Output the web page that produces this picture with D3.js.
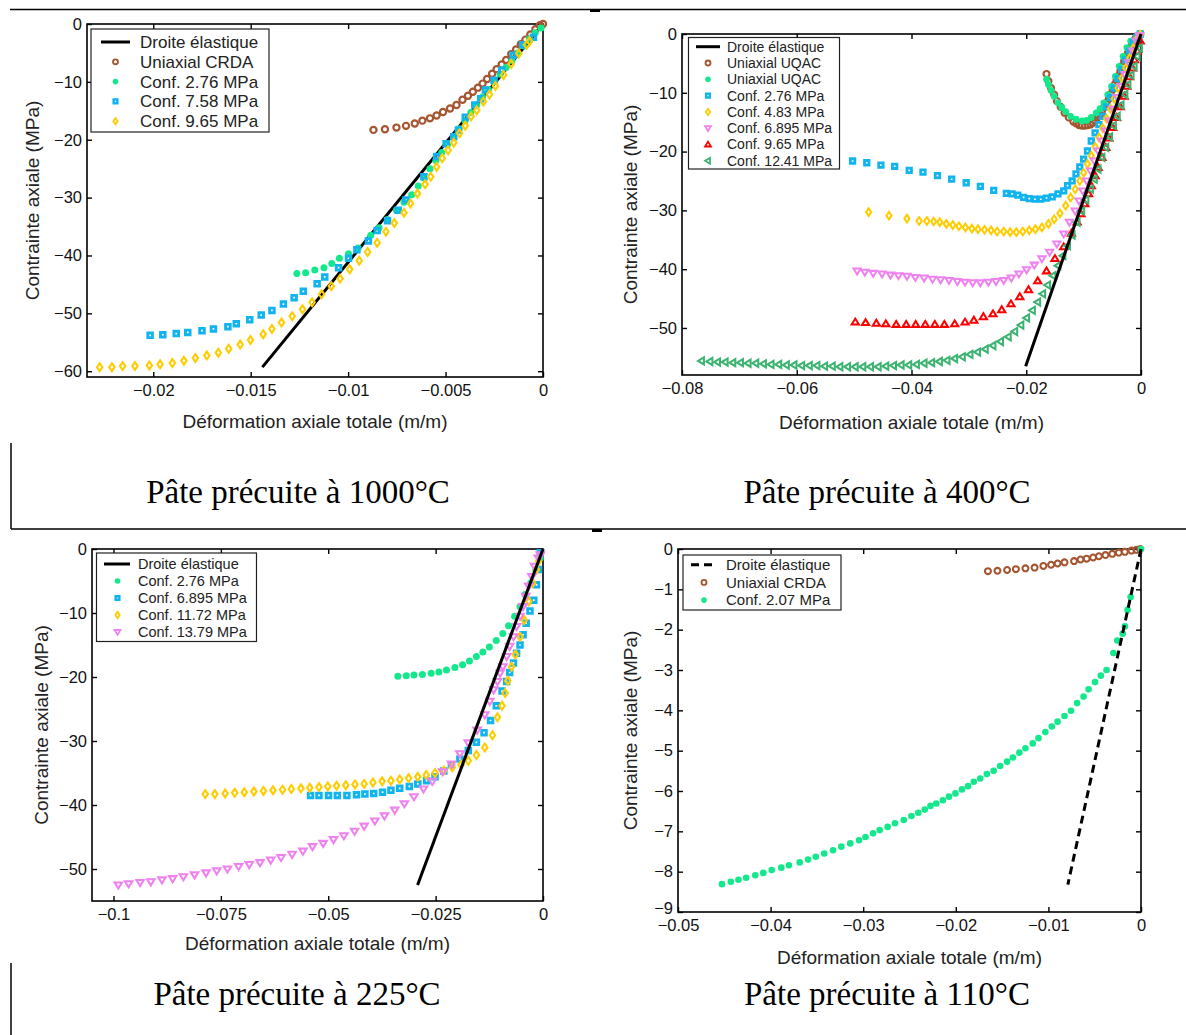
<!DOCTYPE html>
<html><head><meta charset="utf-8">
<script src="https://cdn.jsdelivr.net/npm/d3@7"></script>
<style>body{margin:0;background:#fff} svg{display:block}</style>
</head><body>
<svg id="c" width="1186" height="1035"></svg>
<script>
// ---------------- DATA (strain m/m, stress MPa) ----------------
// Panel 1 : Pâte précuite à 1000°C
const p1Elastic = [[0,0],[-0.0144,-59.3]];
const p1UniaxialCRDA = [[-0.0087,-18.3],[-0.00811,-18.2],[-0.00752,-17.9],[-0.00703,-17.6],[-0.00658,-17.2],[-0.00619,-16.7],[-0.0058,-16.3],[-0.00546,-15.8],[-0.00513,-15.2],[-0.00477,-14.6],[-0.00444,-14.0],[-0.00413,-13.1],[-0.00385,-12.4],[-0.0036,-11.7],[-0.00334,-11.0],[-0.0031,-10.3],[-0.00287,-9.5],[-0.00261,-8.6],[-0.00238,-7.8],[-0.00212,-7.0],[-0.00189,-6.2],[-0.00163,-5.2],[-0.00138,-4.4],[-0.00114,-3.5],[-0.0009,-2.7],[-0.00065,-1.8],[-0.00039,-0.9],[-0.00016,-0.2],[0,0]];
const p1Conf276 = [[-0.01263,-43.1],[-0.01218,-43.0],[-0.01171,-42.5],[-0.01124,-42.1],[-0.01084,-41.4],[-0.01045,-40.5],[-0.00998,-39.7],[-0.00949,-38.7],[-0.00884,-36.5],[-0.00841,-35.2],[-0.00798,-33.8],[-0.00752,-32.2],[-0.00713,-30.8],[-0.00674,-29.5],[-0.0064,-28.0],[-0.0061,-26.6],[-0.0058,-25.0],[-0.0055,-23.6],[-0.0052,-22.2],[-0.0049,-20.8],[-0.0046,-19.5],[-0.0043,-18.1],[-0.004,-16.7],[-0.0037,-15.3],[-0.0034,-14.0],[-0.0031,-12.6],[-0.0028,-11.3],[-0.0025,-10.0],[-0.0022,-8.7],[-0.0019,-7.5],[-0.0016,-6.3],[-0.0013,-5.0],[-0.001,-3.8],[-0.0007,-2.6],[-0.0004,-1.5],[-0.0001,-0.7]];
const p1Conf758 = [[-0.02016,-53.8],[-0.01951,-53.7],[-0.01882,-53.5],[-0.01823,-53.3],[-0.0175,-53.0],[-0.01691,-52.7],[-0.01617,-52.3],[-0.01574,-51.8],[-0.01505,-51.1],[-0.01446,-50.3],[-0.01391,-49.5],[-0.01332,-48.4],[-0.01277,-47.3],[-0.0123,-46.2],[-0.01159,-44.9],[-0.0112,-43.7],[-0.01049,-42.1],[-0.00998,-40.5],[-0.00955,-39.0],[-0.00896,-37.5],[-0.00851,-35.7],[-0.00798,-34.0],[-0.00743,-32.2],[-0.00703,-30.4],[-0.00611,-26.4],[-0.00546,-22.9],[-0.00497,-20.7],[-0.00458,-19.5],[-0.00434,-18.3],[-0.00399,-16.1],[-0.0035,-14.0],[-0.0032,-12.9],[-0.00295,-11.4],[-0.00251,-9.7],[-0.00212,-8.0],[-0.00153,-5.4],[-0.00104,-3.6],[-0.00049,-2.3]];
const p1Conf965 = [[-0.02275,-59.3],[-0.02212,-59.3],[-0.02157,-59.1],[-0.02094,-59.1],[-0.0202,-59.0],[-0.01965,-58.8],[-0.01902,-58.6],[-0.01843,-58.2],[-0.01784,-57.7],[-0.01725,-57.3],[-0.01666,-56.8],[-0.01613,-56.1],[-0.01554,-55.4],[-0.01501,-54.6],[-0.01436,-53.6],[-0.01391,-52.7],[-0.01342,-51.6],[-0.01287,-50.5],[-0.01234,-49.3],[-0.01185,-48.1],[-0.01136,-46.7],[-0.01086,-45.3],[-0.01041,-44.0],[-0.00992,-42.4],[-0.00943,-40.9],[-0.009,-39.4],[-0.00851,-37.8],[-0.00806,-35.9],[-0.00763,-34.4],[-0.00713,-32.6],[-0.0068,-31.0],[-0.00644,-29.3],[-0.00605,-27.7],[-0.00576,-26.4],[-0.00546,-24.7],[-0.00517,-23.2],[-0.00487,-21.8],[-0.00458,-20.5],[-0.00428,-18.9],[-0.00399,-17.6],[-0.00369,-16.0],[-0.0034,-14.9],[-0.00306,-13.4],[-0.00275,-12.2],[-0.00244,-10.7],[-0.00202,-8.8],[-0.00163,-6.9],[-0.00124,-5.1],[-0.00084,-3.6],[-0.00069,-3.0]];
const p1XTicks = [-0.02,-0.015,-0.01,-0.005,0];
const p1XTickLabels = ["\u22120.02","\u22120.015","\u22120.01","\u22120.005","0"];
const p1YTicks = [0,-10,-20,-30,-40,-50,-60];
const p1YTickLabels = ["0","\u221210","\u221220","\u221230","\u221240","\u221250","\u221260"];
const p1Legend = ["Droite élastique","Uniaxial CRDA","Conf. 2.76 MPa","Conf. 7.58 MPa","Conf. 9.65 MPa"];

// Panel 2 : Pâte précuite à 400°C
const p2Elastic = [[0,0],[-0.0201,-56.5]];
const p2UniaxialUQAC1 = [[-0.01647,-6.8],[-0.01613,-8.0],[-0.01567,-9.2],[-0.01513,-10.3],[-0.01467,-11.4],[-0.014,-12.4],[-0.01333,-13.4],[-0.0126,-14.2],[-0.0118,-14.9],[-0.0113,-15.2],[-0.0108,-15.5],[-0.0103,-15.6],[-0.0098,-15.6],[-0.0093,-15.5],[-0.0088,-15.4],[-0.0084,-15.1],[-0.008,-14.7],[-0.00755,-14.2],[-0.00713,-13.7],[-0.0068,-13.1],[-0.00647,-12.5],[-0.006,-11.7],[-0.0056,-11.0],[-0.00525,-10.2],[-0.00493,-9.4],[-0.0046,-8.6],[-0.00427,-7.9],[-0.00393,-7.1],[-0.0036,-6.3],[-0.00327,-5.4],[-0.00293,-4.6],[-0.0026,-3.9],[-0.00227,-3.2],[-0.00193,-2.5],[-0.0016,-1.8],[-0.00127,-1.2],[-0.00093,-0.7],[-0.0005,-0.3],[-0.00013,0]];
const p2UniaxialUQAC2 = [[-0.01647,-7.7],[-0.01613,-8.6],[-0.01567,-9.6],[-0.01513,-10.6],[-0.01447,-11.7],[-0.0138,-12.5],[-0.01313,-13.2],[-0.01227,-14.0],[-0.01133,-14.5],[-0.01027,-14.8],[-0.00947,-14.7],[-0.00867,-14.2],[-0.0078,-13.4],[-0.00713,-12.7],[-0.00647,-11.7],[-0.0058,-10.3],[-0.00513,-8.9],[-0.00447,-7.2],[-0.0038,-5.5],[-0.00313,-3.8],[-0.00247,-2.3],[-0.0018,-1.2],[-0.0008,-0.4],[0,0]];
const p2Conf276 = [[-0.05027,-21.6],[-0.0478,-21.9],[-0.04533,-22.3],[-0.04293,-22.5],[-0.0404,-23.2],[-0.038,-23.5],[-0.03547,-24.1],[-0.033,-24.7],[-0.03047,-25.3],[-0.028,-25.9],[-0.02567,-26.6],[-0.02347,-27.1],[-0.02247,-27.2],[-0.02147,-27.4],[-0.02047,-27.8],[-0.01947,-28.0],[-0.01847,-28.1],[-0.01747,-28.1],[-0.01647,-27.9],[-0.01547,-27.7],[-0.01447,-27.2],[-0.01347,-26.7],[-0.0128,-25.8],[-0.012,-25.0],[-0.01133,-23.8],[-0.01067,-22.6],[-0.01,-21.3],[-0.00933,-19.9],[-0.00867,-18.2],[-0.008,-16.8],[-0.00733,-15.4],[-0.00667,-14.0],[-0.006,-12.4],[-0.00533,-10.8],[-0.00467,-9.2],[-0.004,-7.6],[-0.00333,-6.0],[-0.00267,-4.4],[-0.002,-2.9],[-0.00133,-1.5],[-0.00067,-0.6],[-0.00013,0]];
const p2Conf483 = [[-0.04747,-30.3],[-0.04393,-30.9],[-0.0408,-31.4],[-0.03867,-31.8],[-0.03733,-31.8],[-0.03613,-31.9],[-0.03507,-32.0],[-0.03393,-32.3],[-0.0328,-32.5],[-0.03173,-32.7],[-0.0306,-32.9],[-0.02947,-33.1],[-0.0284,-33.2],[-0.02727,-33.3],[-0.02613,-33.4],[-0.02507,-33.6],[-0.02393,-33.6],[-0.0228,-33.7],[-0.02173,-33.7],[-0.0206,-33.6],[-0.01947,-33.4],[-0.0184,-33.2],[-0.01727,-32.9],[-0.01613,-32.3],[-0.01513,-31.5],[-0.01413,-30.5],[-0.01313,-29.2],[-0.01227,-27.8],[-0.01147,-26.4],[-0.01067,-25.0],[-0.01,-23.6],[-0.00933,-22.1],[-0.00867,-20.7],[-0.008,-19.2],[-0.00733,-17.6],[-0.00667,-16.0],[-0.006,-14.4],[-0.00533,-12.7],[-0.00467,-11.0],[-0.004,-9.2],[-0.00333,-7.5],[-0.00267,-5.8],[-0.002,-4.1],[-0.00133,-2.4],[-0.0008,-1.0],[-0.00013,-0.1]];
const p2Conf6895 = [[-0.04947,-40.3],[-0.04813,-40.5],[-0.04667,-40.7],[-0.04513,-40.8],[-0.04367,-41.0],[-0.04227,-41.1],[-0.0408,-41.2],[-0.03933,-41.4],[-0.0378,-41.5],[-0.03633,-41.7],[-0.03493,-41.8],[-0.03347,-41.9],[-0.032,-42.1],[-0.03067,-42.2],[-0.02933,-42.3],[-0.028,-42.3],[-0.0266,-42.2],[-0.02527,-42.1],[-0.02393,-41.9],[-0.0226,-41.5],[-0.02127,-40.8],[-0.01993,-40.1],[-0.0186,-39.3],[-0.01727,-38.2],[-0.01593,-37.1],[-0.01467,-35.7],[-0.01347,-34.0],[-0.01247,-32.0],[-0.01147,-30.1],[-0.0108,-28.4],[-0.01013,-26.7],[-0.00947,-25.0],[-0.0088,-23.3],[-0.00813,-21.6],[-0.00747,-19.9],[-0.0068,-18.2],[-0.00613,-16.5],[-0.00547,-14.8],[-0.0048,-12.8],[-0.00413,-10.8],[-0.00347,-8.9],[-0.0028,-6.9],[-0.00213,-4.9],[-0.00147,-2.9],[-0.0008,-1.2],[-0.00027,-0.3]];
const p2Conf965 = [[-0.0498,-49.0],[-0.048,-49.1],[-0.04613,-49.2],[-0.04447,-49.3],[-0.04267,-49.4],[-0.04093,-49.4],[-0.03927,-49.4],[-0.0376,-49.4],[-0.03593,-49.4],[-0.03427,-49.4],[-0.03247,-49.3],[-0.03067,-49.0],[-0.02913,-48.7],[-0.02747,-48.1],[-0.0258,-47.6],[-0.02427,-46.9],[-0.02267,-45.9],[-0.02113,-44.7],[-0.0196,-43.5],[-0.018,-42.0],[-0.01647,-40.3],[-0.015,-38.2],[-0.01347,-36.2],[-0.01213,-33.9],[-0.01113,-32.0],[-0.01047,-30.6],[-0.0098,-28.9],[-0.00913,-27.2],[-0.00867,-25.8],[-0.008,-24.1],[-0.00747,-22.7],[-0.0068,-21.0],[-0.00613,-19.3],[-0.0056,-17.7],[-0.00493,-15.9],[-0.00427,-14.2],[-0.0036,-12.4],[-0.00293,-10.6],[-0.00247,-8.9],[-0.002,-7.3],[-0.00147,-5.8],[-0.00113,-4.4],[-0.00067,-2.9],[-0.00013,-1.2]];
const p2Conf1241 = [[-0.0766,-55.6],[-0.07513,-55.7],[-0.0738,-55.8],[-0.07247,-55.8],[-0.07113,-55.9],[-0.0698,-55.9],[-0.06847,-56.0],[-0.06713,-56.0],[-0.0658,-56.1],[-0.06447,-56.2],[-0.06313,-56.2],[-0.0618,-56.3],[-0.06047,-56.3],[-0.05913,-56.4],[-0.0578,-56.4],[-0.05647,-56.4],[-0.05513,-56.5],[-0.0538,-56.5],[-0.05247,-56.6],[-0.05113,-56.6],[-0.0498,-56.6],[-0.04847,-56.6],[-0.04713,-56.6],[-0.0458,-56.6],[-0.04447,-56.5],[-0.04313,-56.4],[-0.0418,-56.3],[-0.04047,-56.3],[-0.03913,-56.2],[-0.0378,-56.0],[-0.03647,-55.9],[-0.03513,-55.7],[-0.0338,-55.5],[-0.03247,-55.2],[-0.03113,-54.9],[-0.0298,-54.5],[-0.02847,-54.1],[-0.02713,-53.6],[-0.0258,-53.0],[-0.02447,-52.3],[-0.02313,-51.5],[-0.022,-50.6],[-0.02093,-49.5],[-0.01993,-48.3],[-0.01893,-47.0],[-0.018,-45.6],[-0.01713,-44.2],[-0.01627,-42.7],[-0.01533,-41.1],[-0.01447,-39.4],[-0.0136,-37.7],[-0.0128,-36.0],[-0.012,-34.2],[-0.01113,-32.0],[-0.01033,-30.1],[-0.0096,-28.2],[-0.0088,-26.4],[-0.00813,-24.7],[-0.00747,-23.0],[-0.0068,-21.0],[-0.00613,-19.3],[-0.00547,-17.5],[-0.0048,-15.6],[-0.00413,-14.0],[-0.00347,-12.1],[-0.0028,-10.3],[-0.00227,-8.6],[-0.00173,-7.0],[-0.0012,-5.5],[-0.00067,-3.8],[-0.00027,-2.4]];
const p2XTicks = [-0.08,-0.06,-0.04,-0.02,0];
const p2XTickLabels = ["\u22120.08","\u22120.06","\u22120.04","\u22120.02","0"];
const p2YTicks = [0,-10,-20,-30,-40,-50];
const p2YTickLabels = ["0","\u221210","\u221220","\u221230","\u221240","\u221250"];
const p2Legend = ["Droite élastique","Uniaxial UQAC","Uniaxial UQAC","Conf. 2.76 MPa","Conf. 4.83 MPa","Conf. 6.895 MPa","Conf. 9.65 MPa","Conf. 12.41 MPa"];

// Panel 3 : Pâte précuite à 225°C
const p3Elastic = [[0,0],[-0.0292,-52.5]];
const p3Conf276 = [[-0.03379,-19.9],[-0.03183,-19.8],[-0.03005,-19.7],[-0.02808,-19.6],[-0.02603,-19.4],[-0.02425,-19.2],[-0.02247,-18.9],[-0.02051,-18.5],[-0.01872,-18.1],[-0.01712,-17.5],[-0.01551,-16.8],[-0.014,-16.1],[-0.01248,-15.3],[-0.01088,-14.3],[-0.00936,-13.2],[-0.00802,-12.0],[-0.0066,-10.5],[-0.00535,-9.0],[-0.00419,-7.1],[-0.00285,-5.3],[-0.00169,-3.2],[-0.00062,-1.4]];
const p3Conf6895 = [[-0.05412,-38.5],[-0.05216,-38.5],[-0.04993,-38.5],[-0.04788,-38.5],[-0.04565,-38.5],[-0.04342,-38.4],[-0.04146,-38.3],[-0.03941,-38.2],[-0.03736,-38.0],[-0.0354,-37.7],[-0.03335,-37.4],[-0.03112,-37.1],[-0.02915,-36.7],[-0.0271,-36.2],[-0.02514,-35.6],[-0.02309,-34.7],[-0.02131,-33.7],[-0.01935,-32.8],[-0.01739,-31.5],[-0.01551,-30.2],[-0.01373,-28.7],[-0.01221,-26.8],[-0.01088,-24.5],[-0.00954,-22.2],[-0.00847,-20.7],[-0.00776,-19.3],[-0.00687,-17.8],[-0.00615,-16.3],[-0.00535,-15.0],[-0.00464,-13.4],[-0.00392,-11.6],[-0.00303,-9.7],[-0.00214,-8.0],[-0.00152,-5.6],[-0.00107,-3.2],[-0.00062,-0.6]];
const p3Conf1172 = [[-0.07864,-38.3],[-0.07641,-38.3],[-0.074,-38.2],[-0.07177,-38.1],[-0.06954,-38.0],[-0.06731,-37.9],[-0.06509,-37.8],[-0.06286,-37.7],[-0.06063,-37.6],[-0.05858,-37.5],[-0.05635,-37.4],[-0.0543,-37.3],[-0.05216,-37.2],[-0.05011,-37.1],[-0.04806,-37.0],[-0.04592,-36.9],[-0.04378,-36.8],[-0.04164,-36.7],[-0.03959,-36.5],[-0.03745,-36.3],[-0.0354,-36.2],[-0.03335,-36.0],[-0.03129,-35.8],[-0.02915,-35.6],[-0.02719,-35.3],[-0.02514,-35.0],[-0.02309,-34.6],[-0.02113,-34.1],[-0.01908,-33.7],[-0.01739,-33.1],[-0.01551,-32.2],[-0.01355,-31.0],[-0.01177,-29.1],[-0.01061,-26.3],[-0.00954,-24.5],[-0.00883,-22.5],[-0.0082,-20.6],[-0.00731,-18.4],[-0.00642,-16.5],[-0.00535,-13.7],[-0.00437,-11.1],[-0.0033,-8.2],[-0.00241,-5.3],[-0.00152,-3.2],[-0.00107,-1.9]];
const p3Conf1379 = [[-0.09888,-52.5],[-0.09647,-52.3],[-0.0938,-52.1],[-0.0913,-52.0],[-0.08871,-51.7],[-0.08622,-51.5],[-0.08372,-51.2],[-0.08113,-50.9],[-0.07846,-50.6],[-0.07596,-50.3],[-0.07347,-50.0],[-0.07088,-49.6],[-0.06839,-49.3],[-0.06589,-49.0],[-0.06339,-48.6],[-0.06099,-48.2],[-0.0584,-47.7],[-0.0559,-47.2],[-0.05367,-46.5],[-0.05118,-46.0],[-0.04877,-45.4],[-0.04636,-44.8],[-0.04387,-44.1],[-0.04164,-43.3],[-0.03914,-42.5],[-0.03691,-41.7],[-0.03451,-40.8],[-0.03228,-39.8],[-0.03005,-38.7],[-0.02782,-37.5],[-0.02577,-36.3],[-0.02336,-34.8],[-0.02131,-33.6],[-0.01935,-32.0],[-0.01739,-30.3],[-0.01534,-28.3],[-0.01355,-25.9],[-0.01239,-23.8],[-0.0115,-22.0],[-0.01061,-20.7],[-0.00999,-19.4],[-0.00936,-18.4],[-0.00847,-16.8],[-0.00776,-15.2],[-0.00687,-13.7],[-0.00615,-12.1],[-0.00535,-10.5],[-0.00464,-9.0],[-0.00401,-7.4],[-0.0033,-5.8],[-0.00259,-4.3],[-0.00196,-2.7],[-0.00107,-1.4],[-0.00062,-0.9]];
const p3XTicks = [-0.1,-0.075,-0.05,-0.025,0];
const p3XTickLabels = ["\u22120.1","\u22120.075","\u22120.05","\u22120.025","0"];
const p3YTicks = [0,-10,-20,-30,-40,-50];
const p3YTickLabels = ["0","\u221210","\u221220","\u221230","\u221240","\u221250"];
const p3Legend = ["Droite élastique","Conf. 2.76 MPa","Conf. 6.895 MPa","Conf. 11.72 MPa","Conf. 13.79 MPa"];

// Panel 4 : Pâte précuite à 110°C
const p4Elastic = [[0,0],[-0.0079,-8.32]];
const p4UniaxialCRDA = [[-0.01653,-0.55],[-0.0155,-0.54],[-0.01446,-0.52],[-0.01351,-0.5],[-0.01248,-0.48],[-0.01149,-0.46],[-0.01054,-0.42],[-0.00971,-0.39],[-0.00901,-0.36],[-0.00826,-0.33],[-0.00723,-0.3],[-0.00653,-0.26],[-0.00587,-0.24],[-0.00517,-0.21],[-0.00455,-0.18],[-0.00384,-0.15],[-0.0031,-0.12],[-0.0024,-0.09],[-0.00174,-0.07],[-0.00103,-0.04],[-0.0005,-0.02],[-0.00008,0]];
const p4Conf207 = [[-0.04525,-8.31],[-0.0443,-8.25],[-0.04347,-8.2],[-0.04264,-8.15],[-0.04165,-8.09],[-0.04079,-8.03],[-0.03988,-7.96],[-0.03884,-7.9],[-0.03802,-7.84],[-0.03686,-7.77],[-0.03595,-7.7],[-0.03512,-7.63],[-0.03421,-7.55],[-0.03326,-7.47],[-0.03236,-7.38],[-0.0314,-7.3],[-0.03045,-7.22],[-0.02975,-7.14],[-0.02893,-7.05],[-0.02822,-6.97],[-0.02736,-6.89],[-0.02657,-6.8],[-0.02562,-6.72],[-0.02479,-6.62],[-0.02405,-6.54],[-0.02335,-6.46],[-0.02273,-6.37],[-0.02211,-6.31],[-0.0214,-6.23],[-0.02074,-6.14],[-0.02004,-6.06],[-0.01934,-5.96],[-0.01868,-5.88],[-0.01806,-5.77],[-0.01736,-5.69],[-0.01665,-5.58],[-0.01591,-5.5],[-0.01521,-5.38],[-0.01446,-5.27],[-0.01384,-5.17],[-0.01314,-5.05],[-0.01248,-4.94],[-0.01169,-4.82],[-0.01107,-4.69],[-0.01033,-4.54],[-0.00963,-4.4],[-0.00901,-4.28],[-0.00826,-4.14],[-0.00756,-4.01],[-0.0069,-3.82],[-0.0062,-3.66],[-0.00566,-3.48],[-0.00496,-3.3],[-0.00434,-3.14],[-0.00372,-3.0],[-0.00298,-2.58],[-0.00256,-2.27],[-0.00198,-2.1],[-0.00174,-1.92],[-0.00145,-1.51],[-0.00112,-1.19],[0,0]];
const p4XTicks = [-0.05,-0.04,-0.03,-0.02,-0.01,0];
const p4XTickLabels = ["\u22120.05","\u22120.04","\u22120.03","\u22120.02","\u22120.01","0"];
const p4YTicks = [0,-1,-2,-3,-4,-5,-6,-7,-8,-9];
const p4YTickLabels = ["0","\u22121","\u22122","\u22123","\u22124","\u22125","\u22126","\u22127","\u22128","\u22129"];
const p4Legend = ["Droite élastique","Uniaxial CRDA","Conf. 2.07 MPa"];

const captions = ["Pâte précuite à 1000°C","Pâte précuite à 400°C","Pâte précuite à 225°C","Pâte précuite à 110°C"];
const xTitle = "Déformation axiale totale (m/m)";
const yTitle = "Contrainte axiale (MPa)";

// ---------------- STYLE ----------------
const C = {brown:"#a5552f", spring:"#14e88c", blue:"#12b4ef", gold:"#ffcc00", violet:"#ee82ee", red:"#ff0000", sea:"#3cb371"};
const SANS = "'Liberation Sans', Arial, Helvetica, sans-serif";
const SERIF = "'Liberation Serif', 'Times New Roman', serif";

const svg = d3.select("#c");

function markerPath(type, s) {
  const p = d3.path();
  if (type === "o") { p.arc(0,0,3.1*s,0,2*Math.PI); }
  else if (type === ".") { p.arc(0,0,3.5*s,0,2*Math.PI); }
  else if (type === "s") { const h=2.3*s; p.rect(-h,-h,2*h,2*h); }
  else if (type === "d") { const w=2.7*s,h=3.9*s; p.moveTo(0,-h);p.lineTo(w,0);p.lineTo(0,h);p.lineTo(-w,0);p.closePath(); }
  else if (type === "v") { const w=3.7*s; p.moveTo(-w,-2.5*s);p.lineTo(w,-2.5*s);p.lineTo(0,3.6*s);p.closePath(); }
  else if (type === "^") { const w=3.7*s; p.moveTo(-w,2.5*s);p.lineTo(w,2.5*s);p.lineTo(0,-3.6*s);p.closePath(); }
  else if (type === "<") { const w=3.7*s; p.moveTo(2.5*s,-w);p.lineTo(2.5*s,w);p.lineTo(-3.6*s,0);p.closePath(); }
  return p.toString();
}
function markerStyle(sel, type, color, s) {
  if (type === ".") sel.attr("fill", color).attr("stroke", "none");
  else sel.attr("fill", "none").attr("stroke", color)
          .attr("stroke-width", (type==="s"?2.9:type==="o"?2.2:2.1)*Math.max(s,0.85))
          .attr("stroke-linejoin","miter");
}

function drawPanel(cfg) {
  const g = svg.append("g");
  const x = d3.scaleLinear().domain(cfg.xDomain).range([cfg.left, cfg.right]);
  const y = d3.scaleLinear().domain(cfg.yDomain).range([cfg.bottom, cfg.top]);
  const W = cfg.right - cfg.left, H = cfg.bottom - cfg.top;

  const axB = g.append("g").attr("transform", `translate(0,${cfg.bottom})`)
    .call(d3.axisBottom(x).tickValues(cfg.xTicks).tickFormat((d,i)=>cfg.xTickLabels[i]).tickSize(-5).tickSizeOuter(0).tickPadding(7.5));
  const axL = g.append("g").attr("transform", `translate(${cfg.left},0)`)
    .call(d3.axisLeft(y).tickValues(cfg.yTicks).tickFormat((d,i)=>cfg.yTickLabels[i]).tickSize(-5).tickSizeOuter(0).tickPadding(5));
  const axT = g.append("g").attr("transform", `translate(0,${cfg.top})`)
    .call(d3.axisTop(x).tickValues(cfg.xTicks).tickFormat("").tickSize(-5).tickSizeOuter(0));
  const axR = g.append("g").attr("transform", `translate(${cfg.right},0)`)
    .call(d3.axisRight(y).tickValues(cfg.yTicks).tickFormat("").tickSize(-5).tickSizeOuter(0));
  [axB,axL,axT,axR].forEach(a => {
    a.select(".domain").remove();
    a.selectAll(".tick line").attr("stroke","#000").attr("stroke-width",1.4);
    a.selectAll(".tick text").attr("font-family",SANS).attr("font-size",16.5).attr("fill","#111");
  });
  if (cfg.lowestYLabelShift) {
    axL.selectAll(".tick text").filter((d,i)=>i===cfg.yTicks.length-1).attr("dy", cfg.lowestYLabelShift);
  }
  g.append("rect").attr("x",cfg.left).attr("y",cfg.top).attr("width",W).attr("height",H)
    .attr("fill","none").attr("stroke","#000").attr("stroke-width",1.6);

  // titles
  g.append("text").attr("x",(cfg.left+cfg.right)/2).attr("y",cfg.xTitleY).attr("text-anchor","middle")
    .attr("font-family",SANS).attr("font-size",19).attr("fill","#222").text(xTitle);
  g.append("text").attr("transform",`translate(${cfg.yTitleX},${(cfg.top+cfg.bottom)/2}) rotate(-90)`)
    .attr("text-anchor","middle").attr("dy","0.35em")
    .attr("font-family",SANS).attr("font-size",19).attr("fill","#222").text(yTitle);

  const line = d3.line().x(d=>x(d[0])).y(d=>y(d[1]));
  function drawElastic() {
    g.append("path").datum(cfg.elastic).attr("d",line).attr("fill","none").attr("stroke","#000")
      .attr("stroke-width",3).attr("stroke-dasharray",cfg.dashed?"8,5":null);
  }
  if (!cfg.lineOnTop) drawElastic();
  cfg.series.forEach(s => {
    g.append("g").selectAll("path").data(s.data).join("path")
      .attr("transform", d=>`translate(${x(d[0])},${y(d[1])})`)
      .attr("d", markerPath(s.marker, cfg.mScale))
      .call(sel => markerStyle(sel, s.marker, s.color, cfg.mScale));
  });
  if (cfg.lineOnTop) drawElastic();

  // legend
  const L = cfg.legend;
  const lg = g.append("g");
  lg.append("rect").attr("x",L.x).attr("y",L.y).attr("width",L.w).attr("height",L.h)
    .attr("fill","#fff").attr("stroke","#222").attr("stroke-width",1.2);
  cfg.legendLabels.forEach((lab,i) => {
    const cy = L.y + L.first + i*L.row;
    if (i === 0) {
      lg.append("line").attr("x1",L.lx1).attr("x2",L.lx2).attr("y1",cy).attr("y2",cy)
        .attr("stroke","#000").attr("stroke-width",3).attr("stroke-dasharray",cfg.dashed?"8,5":null);
    } else {
      const s = cfg.series[i-1];
      lg.append("path").attr("transform",`translate(${L.mx},${cy})`).attr("d",markerPath(s.marker,L.ms))
        .call(sel => markerStyle(sel, s.marker, s.color, L.ms));
    }
    lg.append("text").attr("x",L.tx).attr("y",cy).attr("dy","0.35em")
      .attr("font-family",SANS).attr("font-size",L.fs).attr("fill","#222").text(lab);
  });
}

drawPanel({
  left:87, right:543, top:24, bottom:377, xDomain:[-0.0234,0], yDomain:[-61,0],
  xTicks:p1XTicks, xTickLabels:p1XTickLabels, yTicks:p1YTicks, yTickLabels:p1YTickLabels,
  xTitleY:428, yTitleX:32, elastic:p1Elastic, dashed:false, lineOnTop:false, mScale:1,
  series:[{data:p1UniaxialCRDA,marker:"o",color:C.brown},{data:p1Conf276,marker:".",color:C.spring},
          {data:p1Conf758,marker:"s",color:C.blue},{data:p1Conf965,marker:"d",color:C.gold}],
  legendLabels:p1Legend,
  legend:{x:91,y:29,w:178,h:103,first:13,row:19.8,lx1:101,lx2:130,mx:115.5,ms:0.8,tx:140,fs:17}
});
drawPanel({
  left:682, right:1141, top:34, bottom:375, xDomain:[-0.08,0], yDomain:[-58,0],
  xTicks:p2XTicks, xTickLabels:p2XTickLabels, yTicks:p2YTicks, yTickLabels:p2YTickLabels,
  xTitleY:429, yTitleX:630, elastic:p2Elastic, dashed:false, lineOnTop:true, mScale:0.97,
  series:[{data:p2UniaxialUQAC1,marker:"o",color:C.brown},{data:p2UniaxialUQAC2,marker:".",color:C.spring},
          {data:p2Conf276,marker:"s",color:C.blue},{data:p2Conf483,marker:"d",color:C.gold},
          {data:p2Conf6895,marker:"v",color:C.violet},{data:p2Conf965,marker:"^",color:C.red},
          {data:p2Conf1241,marker:"<",color:C.sea}],
  legendLabels:p2Legend,
  legend:{x:688.5,y:37.5,w:151,h:131.5,first:9.2,row:16.3,lx1:696,lx2:720,mx:708,ms:0.8,tx:727,fs:14}
});
drawPanel({
  left:92, right:543, top:549, bottom:901, xDomain:[-0.105,0], yDomain:[-55,0],
  xTicks:p3XTicks, xTickLabels:p3XTickLabels, yTicks:p3YTicks, yTickLabels:p3YTickLabels,
  xTitleY:950, yTitleX:41, elastic:p3Elastic, dashed:false, lineOnTop:true, mScale:1,
  series:[{data:p3Conf276,marker:".",color:C.spring},{data:p3Conf6895,marker:"s",color:C.blue},
          {data:p3Conf1172,marker:"d",color:C.gold},{data:p3Conf1379,marker:"v",color:C.violet}],
  legendLabels:p3Legend,
  legend:{x:96.5,y:553,w:160,h:88.5,first:11,row:17,lx1:104,lx2:130,mx:117.5,ms:0.8,tx:138,fs:14.5}
});
drawPanel({
  left:678, right:1141, top:549, bottom:912, xDomain:[-0.05,0], yDomain:[-9,0],
  xTicks:p4XTicks, xTickLabels:p4XTickLabels, yTicks:p4YTicks, yTickLabels:p4YTickLabels,
  xTitleY:964, yTitleX:630, elastic:p4Elastic, dashed:true, lineOnTop:true, mScale:0.95,
  lowestYLabelShift:"0.1em",
  series:[{data:p4UniaxialCRDA,marker:"o",color:C.brown},{data:p4Conf207,marker:".",color:C.spring}],
  legendLabels:p4Legend,
  legend:{x:683,y:555,w:158,h:55,first:9.7,row:17.7,lx1:691,lx2:712,mx:704,ms:0.8,tx:726,fs:15}
});

// captions
const capPos = [[298,503],[887,503],[297,1005],[887,1005]];
captions.forEach((t,i) => {
  svg.append("text").attr("x",capPos[i][0]).attr("y",capPos[i][1]).attr("text-anchor","middle")
    .attr("font-family",SERIF).attr("font-size",33).attr("fill","#000").text(t);
});

// table frame lines
const fr = svg.append("g").attr("stroke","#000").attr("stroke-width",1.5);
fr.append("line").attr("x1",10).attr("x2",1186).attr("y1",9.5).attr("y2",9.5);
fr.append("line").attr("x1",11).attr("x2",11).attr("y1",443).attr("y2",529);
fr.append("line").attr("x1",11).attr("x2",1186).attr("y1",529).attr("y2",529);
fr.append("line").attr("x1",11).attr("x2",11).attr("y1",963).attr("y2",1035);
svg.append("rect").attr("x",590).attr("y",9).attr("width",10).attr("height",3).attr("fill","#000");
svg.append("rect").attr("x",592).attr("y",529).attr("width",10).attr("height",3).attr("fill","#000");
</script>
</body></html>
